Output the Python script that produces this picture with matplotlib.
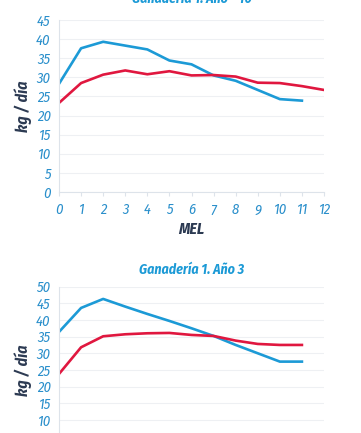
import matplotlib
matplotlib.use("Agg")
import matplotlib.pyplot as plt

# datos
mel = list(range(13))
blue_10 = [28.3, 37.6, 39.3, 38.3, 37.3, 34.4, 33.4, 30.5, 29.1, 26.7, 24.3, 23.9]
red_10 = [23.3, 28.5, 30.7, 31.8, 30.8, 31.6, 30.5, 30.6, 30.2, 28.6, 28.5, 27.7, 26.7]
blue_3 = [36.4, 43.6, 46.3, 44.0, 41.8, 39.7, 37.5, 35.2, 32.5, 30.0, 27.5, 27.5]
red_3 = [23.8, 31.8, 35.1, 35.7, 36.0, 36.1, 35.5, 35.2, 33.8, 32.8, 32.5, 32.5]
yticks_10 = list(range(0, 50, 5))
yticks_3 = list(range(10, 55, 5))

plt.rcParams['font.family'] = ['Fira Sans Condensed', 'DejaVu Sans']

BLUE = '#1c9ad6'
RED = '#e0173f'
DARK = '#2c3a52'
TICK = '#2a8fcb'
GRID = '#eef0f3'

fig = plt.figure(figsize=(3.61, 4.33), dpi=100)
ax1 = fig.add_axes([59/361, (433-192)/433, 265/361, 172/433])
ax2 = fig.add_axes([59/361, (433-453.3)/433, 265/361, 166.7/433])


def style(ax, yt, ymax):
    ax.set_xlim(0, 12)
    ax.set_ylim(0, ymax)
    ax.set_yticks(yt)
    ax.set_xticks(mel)
    ax.grid(axis='y', color=GRID, lw=0.8)
    ax.set_axisbelow(True)
    for s in ['top', 'right']:
        ax.spines[s].set_visible(False)
    for s in ['left', 'bottom']:
        ax.spines[s].set_color('#dde3ea')
        ax.spines[s].set_linewidth(0.8)
    ax.tick_params(axis='y', length=0, pad=6, labelsize=10.5, labelcolor=TICK)
    ax.tick_params(axis='x', length=3, color='#dde3ea', pad=5, labelsize=10.5, labelcolor=TICK)
    for lb in ax.get_xticklabels() + ax.get_yticklabels():
        lb.set_fontstyle('italic')
    ax.set_ylabel('kg / día', color=DARK, fontsize=11.5, fontweight='bold',
                  fontstyle='italic', labelpad=3)


ax1.plot(range(len(blue_10)), blue_10, color=BLUE, lw=1.9)
ax1.plot(range(len(red_10)), red_10, color=RED, lw=1.9)
style(ax1, yticks_10, 45)
ax1.set_xlabel('MEL', color=DARK, fontsize=11.5, fontweight='bold', fontstyle='italic', labelpad=3)
ax1.set_title('Ganadería 1. Año - 10', color=BLUE, fontsize=10, fontweight='bold',
              fontstyle='italic', pad=12)

ax2.plot(range(len(blue_3)), blue_3, color=BLUE, lw=1.9)
ax2.plot(range(len(red_3)), red_3, color=RED, lw=1.9)
style(ax2, yticks_3, 50)
ax2.tick_params(axis='x', labelbottom=False)
ax2.set_title('Ganadería 1. Año 3', color=BLUE, fontsize=10, fontweight='bold',
              fontstyle='italic', pad=9)

fig.savefig('out.png', dpi=100)
